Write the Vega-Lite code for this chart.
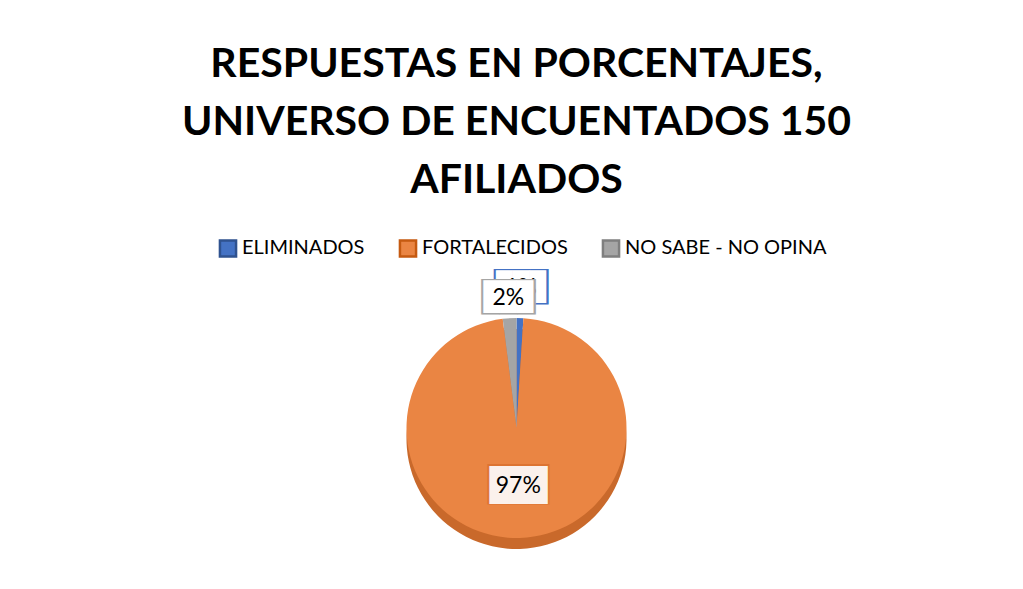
{
  "$schema": "https://vega.github.io/schema/vega-lite/v6.json",
  "width": 1023,
  "height": 589,
  "autosize": {"type": "fit", "contains": "padding"},
  "padding": {"top": 44, "left": 10, "right": 0, "bottom": 0},
  "background": "white",
  "title": {
    "text": ["RESPUESTAS EN PORCENTAJES,", "UNIVERSO DE ENCUENTADOS 150", "AFILIADOS"],
    "font": "Lato",
    "fontSize": 41,
    "fontWeight": "bold",
    "lineHeight": 58,
    "color": "black",
    "anchor": "middle",
    "offset": 65
  },
  "config": {"view": {"stroke": null}},
  "data": {
    "values": [
      {"cat": "ELIMINADOS", "pct": 1, "ord": 1, "label": "1%"},
      {"cat": "FORTALECIDOS", "pct": 97, "ord": 2, "label": "97%"},
      {"cat": "NO SABE - NO OPINA", "pct": 2, "ord": 3, "label": "2%"}
    ]
  },
  "encoding": {
    "theta": {"field": "pct", "type": "quantitative", "stack": true},
    "order": {"field": "ord", "type": "quantitative"}
  },
  "layer": [
    {
      "mark": {"type": "arc", "radius": 110, "yOffset": 11, "color": "#C9692B"}
    },
    {
      "mark": {"type": "arc", "radius": 110},
      "encoding": {
        "color": {
          "field": "cat",
          "type": "nominal",
          "scale": {
            "domain": ["ELIMINADOS", "FORTALECIDOS", "NO SABE - NO OPINA"],
            "range": ["#4472C4", "#EA8543", "#A5A5A5"]
          },
          "legend": {
            "title": null,
            "orient": "none",
            "legendX": 208,
            "legendY": -29,
            "padding": 0,
            "direction": "horizontal",
            "symbolType": "square",
            "symbolSize": 260,
            "symbolStrokeWidth": 2.5,
            "labelFont": "Lato",
            "labelFontSize": 20,
            "labelColor": "black",
            "labelOffset": 4,
            "labelLimit": 400,
            "columnPadding": 29,
            "encode": {
              "symbols": {
                "update": {
                  "stroke": {"signal": "datum.value === 'ELIMINADOS' ? '#2F528F' : datum.value === 'FORTALECIDOS' ? '#C55A11' : '#7F7F7F'"}
                }
              }
            }
          }
        }
      }
    },
    {
      "mark": {"type": "text", "radius": 140, "font": "DejaVu Sans Mono", "fontSize": 30, "fill": "#4472C4"},
      "encoding": {
        "text": {"value": "███"},
        "opacity": {"condition": {"test": "datum.cat == 'ELIMINADOS'", "value": 1}, "value": 0}
      }
    },
    {
      "mark": {"type": "text", "radius": 140, "font": "DejaVu Sans Mono", "fontSize": 27.5, "fill": "white"},
      "encoding": {
        "text": {"value": "███"},
        "opacity": {"condition": {"test": "datum.cat == 'ELIMINADOS'", "value": 1}, "value": 0}
      }
    },
    {
      "mark": {"type": "text", "radius": 140, "font": "Lato", "fontSize": 23, "fill": "black"},
      "encoding": {
        "text": {"field": "label"},
        "opacity": {"condition": {"test": "datum.cat == 'ELIMINADOS'", "value": 1}, "value": 0}
      }
    },
    {
      "mark": {"type": "text", "radius": 130, "font": "DejaVu Sans Mono", "fontSize": 30, "fill": "#A5A5A5"},
      "encoding": {
        "text": {"value": "███"},
        "opacity": {"condition": {"test": "datum.cat == 'NO SABE - NO OPINA'", "value": 1}, "value": 0}
      }
    },
    {
      "mark": {"type": "text", "radius": 130, "font": "DejaVu Sans Mono", "fontSize": 27.5, "fill": "white"},
      "encoding": {
        "text": {"value": "███"},
        "opacity": {"condition": {"test": "datum.cat == 'NO SABE - NO OPINA'", "value": 1}, "value": 0}
      }
    },
    {
      "mark": {"type": "text", "radius": 130, "font": "Lato", "fontSize": 23, "fill": "black"},
      "encoding": {
        "text": {"field": "label"},
        "opacity": {"condition": {"test": "datum.cat == 'NO SABE - NO OPINA'", "value": 1}, "value": 0}
      }
    },
    {
      "mark": {"type": "text", "radius": 58, "font": "DejaVu Sans Mono", "fontSize": 34, "fill": "#DD7432"},
      "encoding": {
        "text": {"value": "███"},
        "opacity": {"condition": {"test": "datum.cat == 'FORTALECIDOS'", "value": 1}, "value": 0}
      }
    },
    {
      "mark": {"type": "text", "radius": 58, "font": "DejaVu Sans Mono", "fontSize": 32, "fill": "#FBF1EC"},
      "encoding": {
        "text": {"value": "███"},
        "opacity": {"condition": {"test": "datum.cat == 'FORTALECIDOS'", "value": 1}, "value": 0}
      }
    },
    {
      "mark": {"type": "text", "radius": 58, "font": "Lato", "fontSize": 23, "fill": "black"},
      "encoding": {
        "text": {"field": "label"},
        "opacity": {"condition": {"test": "datum.cat == 'FORTALECIDOS'", "value": 1}, "value": 0}
      }
    }
  ]
}
